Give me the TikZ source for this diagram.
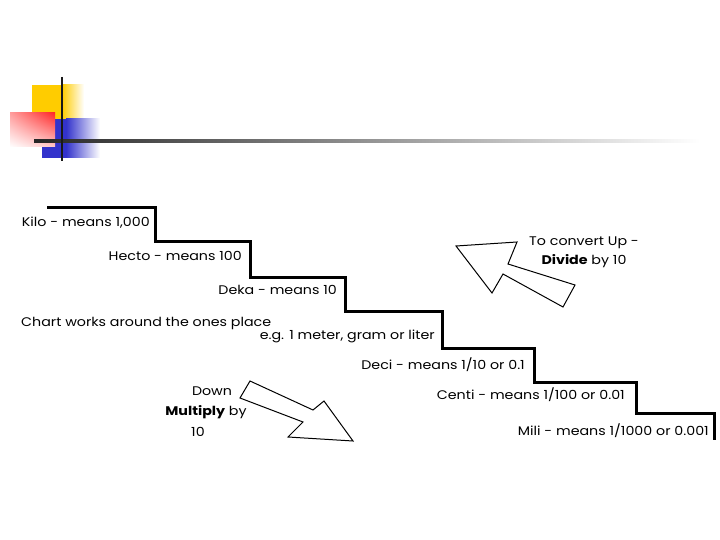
\documentclass[tikz,border=0pt]{standalone}
\usepackage{fontspec}
\setmainfont[FakeStretch=1.14]{Poppins}
\usetikzlibrary{shadings}
\begin{document}
\begin{tikzpicture}[x=1pt,y=-1pt,
  lbl/.style={font=\fontsize{12.5}{14}\selectfont, inner sep=0pt, text=black},
  stair/.style={line width=3pt, line join=miter, black},
  bigarrow/.style={line width=1pt, black, line join=miter}]
\useasboundingbox (0,0) rectangle (720,540);
\fill[white] (0,0) rectangle (720,540);
\definecolor{logoY}{RGB}{255,204,0}
\definecolor{logoB}{RGB}{51,51,204}
\definecolor{logoR}{RGB}{255,40,40}
% logo
\fill[logoY] (32,85) rectangle (62,119);
\shade[left color=logoY, right color=white] (62,85) rectangle (84,119);
\fill[logoB] (42,119) rectangle (66,158);
\shade[left color=logoB, right color=white] (66,119) rectangle (100,158);
\shade[upper left=logoR!45, upper right=logoR, lower left=white, lower right=logoR!25] (10,113) rectangle (55,147);
\shade[left color=black!85, right color=white] (34,139.5) rectangle (700,142.5);
\draw[line width=2.4pt, black!90] (62,77) -- (62,161);
% staircase
\draw[stair] (47,208) -- (155,208) -- (155,241) -- (250,241) -- (250,277) -- (345,277)
  -- (345,311) -- (442,311) -- (442,348) -- (534,348) -- (534,382) -- (636,382)
  -- (636,413) -- (714,413) -- (714,440);
% labels
\node[lbl, anchor=base east] (kilo) at (150,226.5) {Kilo - means 1,000};
\node[lbl, anchor=base east] (hecto) at (242,260.5) {Hecto - means 100};
\node[lbl, anchor=base east] (deka) at (337,294.5) {Deka - means 10};
\node[lbl, anchor=base west] (chart) at (21,326.5) {Chart works around the ones place};
\node[lbl, anchor=base east] (eg) at (435,339) {e.g. 1 meter, gram or liter};
\node[lbl, anchor=base east] (deci) at (525,369.3) {Deci - means 1/10 or 0.1};
\node[lbl, anchor=base east] (centi) at (625,399.2) {Centi - means 1/100 or 0.01};
\node[lbl, anchor=base east] (mili) at (709,435) {Mili - means 1/1000 or 0.001};
\node[lbl, anchor=base] (up1) at (584,245) {To convert Up -};
\node[lbl, anchor=base] (up2) at (584,264.2) {\textbf{Divide} by 10};
\node[lbl, anchor=base] (down1) at (212,395.5) {Down};
\node[lbl, anchor=base] (down2) at (206,415) {\textbf{Multiply} by};
\node[lbl, anchor=base] (down3) at (198,436) {10};
% arrows
\draw[bigarrow] (456,246) -- (517,242) -- (508,264) -- (575,285) -- (563,307)
  -- (503,274) -- (492,293) -- cycle;
\draw[bigarrow] (240,398) -- (250,381) -- (313,410) -- (324,401) -- (353,441)
  -- (288,437) -- (303,422) -- cycle;
\end{tikzpicture}
\end{document}
